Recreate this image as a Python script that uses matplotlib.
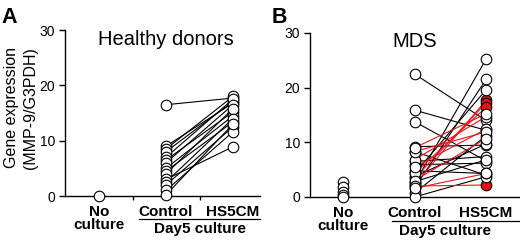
import matplotlib
matplotlib.use("Agg")
import matplotlib.pyplot as plt
from matplotlib.transforms import blended_transform_factory
from matplotlib.lines import Line2D

plt.rcParams['font.family'] = ['Liberation Sans', 'DejaVu Sans']

# ---------------- data ----------------
categories = ["No\nculture", "Control", "HS5CM"]
group_label = "Day5 culture"
yticks = [0, 10, 20, 30]

hd_noculture = [0.0]
hd_control = [16.5, 9.0, 8.5, 8.0, 7.0, 6.5, 6.0, 5.0, 4.5, 4.0, 3.0, 2.5, 2.0, 1.0, 0.2]
hd_hs5cm   = [17.7, 16.8, 18.0, 17.1, 17.5, 15.2, 16.5, 14.5, 13.4, 15.8, 8.9, 14.0, 12.5, 11.6, 13.0]

mds_noculture = [2.8, 1.9, 1.0, 0.4, 0.0]
# black-line patients
mds_ctrl_black = [22.5, 15.9, 13.8, 2.5, 1.6, 4.3, 9.2, 8.3, 6.5, 5.9, 3.7, 0.7, 0.0, 2.8, 4.8]
mds_hs5_black  = [14.0, 12.2, 6.6, 25.2, 21.5, 19.6, 9.5, 4.0, 7.4, 6.2, 9.7, 11.2, 3.7, 6.8, 4.3]
# red-line patients
mds_ctrl_red = [2.2, 3.4, 4.3, 6.8, 5.5, 8.3, 3.0, 2.0, 1.6, 9.0]
mds_hs5_red  = [17.7, 17.2, 16.4, 14.7, 12.4, 11.9, 10.7, 2.2, 4.3, 15.2]
mds_red_filled = [True, True, True, False, False, False, False, True, False, False]

# ---------------- figure ----------------
W, H = 520, 240
fig = plt.figure(figsize=(W / 100, H / 100), dpi=100)

def fx(px):
    return px / W

def fy(py):
    return 1 - py / H

ms = 7.6
mew = 0.8
lw = 0.8
tick_fs = 10
lab_fs = 11

def setup(ax, x0px, x_unit, xleft_px, xright_px):
    xmin = (xleft_px - x0px) / x_unit
    xmax = (xright_px - x0px) / x_unit
    ax.set_xlim(xmin, xmax)
    ax.set_ylim(0, 30)
    for s in ['top', 'right']:
        ax.spines[s].set_visible(False)
    for s in ['left', 'bottom']:
        ax.spines[s].set_linewidth(1.0)
    ax.set_yticks(yticks)
    ax.set_yticklabels([str(v) for v in yticks], fontsize=tick_fs)
    ax.tick_params(axis='y', direction='out', length=4, width=1.0, pad=3)
    ax.set_xticks([])
    ax.patch.set_visible(False)

def xlabels(ax, base_py, underline_py, underline_x, day_py, day_x):
    tr = blended_transform_factory(ax.transData, fig.transFigure)
    no_txt, cul_txt = categories[0].split("\n")
    ax.text(0, fy(base_py), no_txt, transform=tr, ha='center', va='baseline',
            fontsize=lab_fs, fontweight='bold')
    ax.text(0, fy(base_py + 13), cul_txt, transform=tr, ha='center', va='baseline',
            fontsize=lab_fs, fontweight='bold')
    ax.text(1, fy(base_py), categories[1], transform=tr, ha='center', va='baseline',
            fontsize=lab_fs, fontweight='bold')
    ax.text(2, fy(base_py), categories[2], transform=tr, ha='center', va='baseline',
            fontsize=lab_fs, fontweight='bold')
    ax.add_line(Line2D(underline_x, [fy(underline_py)] * 2, transform=tr, color='black',
                       lw=0.9, clip_on=False))
    ax.text(day_x, fy(day_py), group_label, transform=tr, ha='center', va='baseline',
            fontsize=lab_fs, fontweight='bold')

def pair_lines(ax, c, h, color):
    for a, b in zip(c, h):
        ax.plot([1, 2], [a, b], color=color, lw=lw, zorder=2, clip_on=False)

def circles(ax, x, vals, face='white', z=3):
    ax.plot([x] * len(vals), vals, linestyle='none', marker='o', ms=ms, mfc=face,
            mec='black', mew=mew, zorder=z, clip_on=False)

# ---------------- Panel A ----------------
axA_left, axA_right, axA_top, axA_bot = 65, 260, 30, 196
axA = fig.add_axes([fx(axA_left), fy(axA_bot), fx(axA_right - axA_left), (axA_bot - axA_top) / H])
setup(axA, 99, 67, axA_left, axA_right)
axA.set_xticks([0.5, 1.5], minor=True)
axA.tick_params(axis='x', which='minor', direction='out', length=3, width=1.0)
pair_lines(axA, hd_control, hd_hs5cm, 'black')
circles(axA, 0, hd_noculture)
circles(axA, 1, hd_control)
circles(axA, 2, hd_hs5cm)
xlabels(axA, 216, 218.5, [0.6, 2.4], 233, 1.5)
axA.text(1, fy(45), "Healthy donors", transform=blended_transform_factory(axA.transData, fig.transFigure),
         ha='center', va='baseline', fontsize=14.5)
fig.text(fx(21), fy(108), "Gene expression\n(MMP-9/G3PDH)", rotation=90, ha='center', va='center',
         fontsize=11.5, linespacing=1.3)
fig.text(fx(1), fy(23), "A", fontsize=15.5, fontweight='bold', ha='left', va='baseline')

# ---------------- Panel B ----------------
axB_left, axB_right, axB_top, axB_bot = 310, 519, 33, 197
axB = fig.add_axes([fx(axB_left), fy(axB_bot), fx(axB_right - axB_left), (axB_bot - axB_top) / H])
setup(axB, 343, 71.5, axB_left, axB_right)
pair_lines(axB, mds_ctrl_black, mds_hs5_black, 'black')
pair_lines(axB, mds_ctrl_red, mds_hs5_red, '#e8141c')
circles(axB, 0, mds_noculture)
circles(axB, 1, mds_ctrl_black + mds_ctrl_red)
hs5_white = mds_hs5_black + [v for v, f in zip(mds_hs5_red, mds_red_filled) if not f]
hs5_red = [v for v, f in zip(mds_hs5_red, mds_red_filled) if f]
circles(axB, 2, hs5_red, face='#ee1111', z=3)
circles(axB, 2, hs5_white, z=4)
xlabels(axB, 217, 221, [0.68, 2.46], 234.5, 1.43)
axB.text(1, fy(47), "MDS", transform=blended_transform_factory(axB.transData, fig.transFigure),
         ha='center', va='baseline', fontsize=14.5)
fig.text(fx(272), fy(23), "B", fontsize=15.5, fontweight='bold', ha='left', va='baseline')

fig.savefig("out.png", dpi=100)
